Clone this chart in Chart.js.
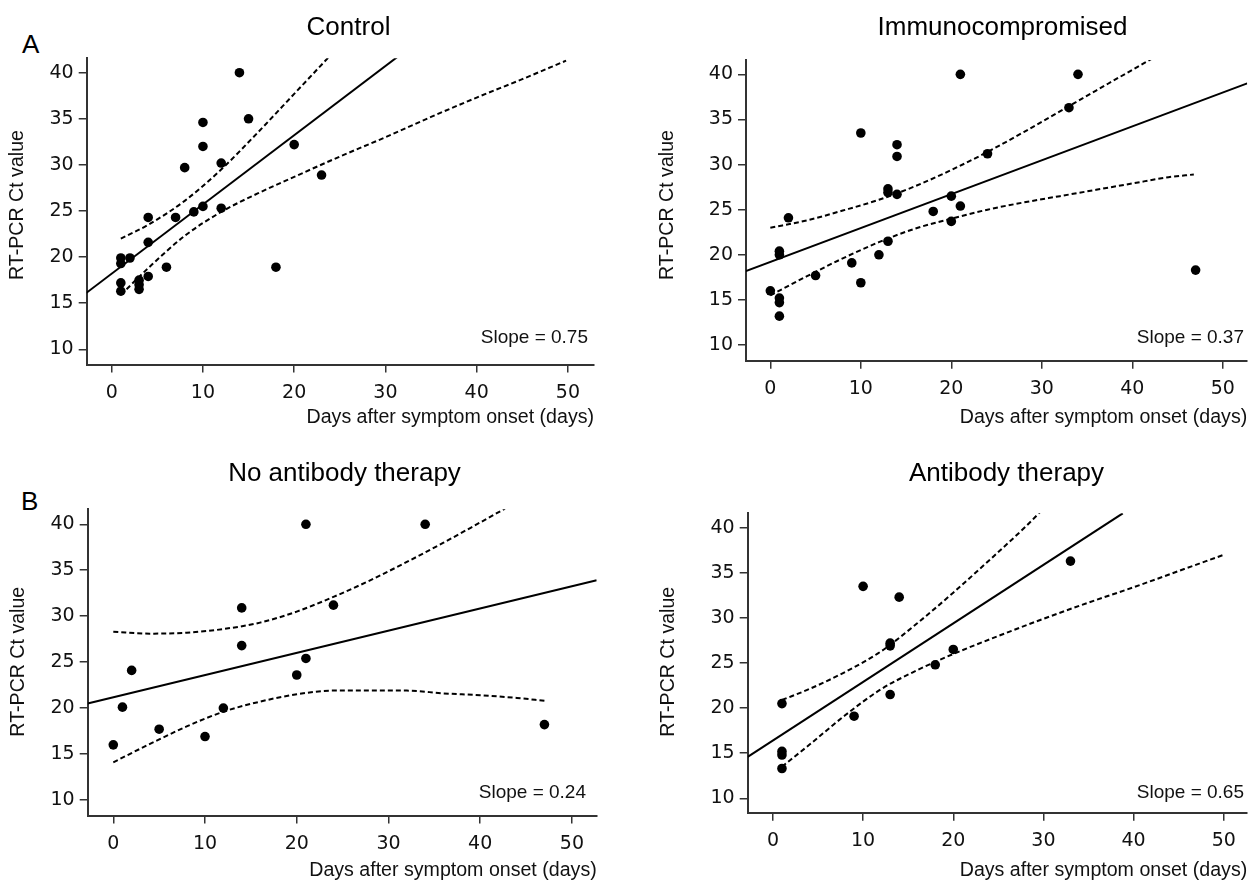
<!DOCTYPE html>
<html>
<head>
<meta charset="utf-8">
<script src="https://cdn.jsdelivr.net/npm/chart.js@4.4.1/dist/chart.umd.min.js"></script>
<style>
  body { margin: 0; background: #fff; }
  #fig { position: relative; width: 1252px; height: 881px; overflow: hidden; background: #fff; }
  #fig canvas { position: absolute; }
  .letter { position: absolute; font-family: 'Liberation Sans', Arial, sans-serif; font-size: 26px; line-height: 26px; color: #000; }
</style>
</head>
<body>
<div id="fig">
  <div class="letter" style="left:22px; top:31px;">A</div>
  <div class="letter" style="left:21px; top:488px;">B</div>
  <canvas id="c-control" width="626" height="440" style="left:0; top:0;"></canvas>
  <canvas id="c-immuno" width="626" height="440" style="left:626px; top:0;"></canvas>
  <canvas id="c-noab" width="626" height="460" style="left:0; top:440px;"></canvas>
  <canvas id="c-ab" width="626" height="460" style="left:626px; top:440px;"></canvas>
</div>
<script>
// tick labels
const xTicks = [0, 10, 20, 30, 40, 50];
const yTicks = [10, 15, 20, 25, 30, 35, 40];

// Control
const controlDays = [1, 1, 2, 1, 1, 3, 3, 3, 4, 4, 4, 6, 7, 8, 9, 10, 10, 10, 12, 12, 14, 15, 18, 20, 23];
const controlCt = [19.9, 19.3, 19.9, 17.2, 16.3, 17.5, 17.0, 16.5, 24.3, 21.6, 17.9, 18.9, 24.3, 29.7, 24.9, 34.6, 32.0, 25.5, 30.2, 25.3, 40.0, 35.0, 18.9, 32.2, 28.9];
const controlFitX = [-2.8, 31.3];
const controlFitY = [16.1, 41.7];
const controlUpperX = [1, 4, 8, 12, 16, 20, 23.8];
const controlUpperY = [22.0, 23.5, 26.1, 29.5, 33.5, 37.7, 41.7];
const controlLowerX = [1, 4, 8, 12, 16, 20, 25, 30, 35, 40, 45, 49.8];
const controlLowerY = [15.9, 18.8, 22.3, 24.9, 26.9, 28.7, 30.9, 33.0, 35.2, 37.3, 39.3, 41.3];

// Immunocompromised
const immunoDays = [0, 1, 1, 1, 1, 1, 2, 5, 9, 10, 10, 12, 13, 13, 13, 14, 14, 14, 18, 20, 20, 21, 21, 24, 33, 34, 47];
const immunoCt = [16.0, 20.4, 20.0, 15.2, 14.7, 13.2, 24.1, 17.7, 19.1, 33.5, 16.9, 20.0, 27.3, 26.9, 21.5, 32.2, 30.9, 26.7, 24.8, 26.5, 23.7, 40.0, 25.4, 31.2, 36.3, 40.0, 18.3];
const immunoFitX = [-2.7, 52.7];
const immunoFitY = [18.2, 39.0];
const immunoUpperX = [0, 4, 8, 12, 16, 20, 24, 28, 32, 36, 40, 42.1];
const immunoUpperY = [23.0, 23.8, 24.9, 26.1, 27.6, 29.4, 31.4, 33.6, 35.9, 38.2, 40.5, 41.7];
const immunoLowerX = [0, 4, 8, 12, 16, 20, 24, 28, 32, 36, 40, 44, 46.8];
const immunoLowerY = [15.5, 17.6, 19.6, 21.4, 22.9, 24.0, 25.0, 25.8, 26.5, 27.2, 27.9, 28.6, 28.9];

// No antibody therapy
const noAbDays = [0, 1, 2, 5, 10, 12, 14, 14, 20, 21, 21, 24, 34, 47];
const noAbCt = [16.0, 20.1, 24.1, 17.7, 16.9, 20.0, 30.9, 26.8, 23.6, 40.0, 25.4, 31.2, 40.0, 18.2];
const noAbFitX = [-2.8, 52.7];
const noAbFitY = [20.5, 33.9];
const noAbUpperX = [0, 4, 8, 12, 16, 20, 24, 28, 32, 36, 40, 42.7];
const noAbUpperY = [28.3, 28.1, 28.2, 28.6, 29.3, 30.5, 32.1, 33.9, 35.9, 38.0, 40.2, 41.7];
const noAbLowerX = [0, 4, 8, 12, 16, 20, 24, 28, 32, 36, 40, 44, 47];
const noAbLowerY = [14.1, 16.1, 18.0, 19.6, 20.7, 21.5, 21.9, 21.9, 21.9, 21.6, 21.4, 21.1, 20.8];

// Antibody therapy
const abDays = [1, 1, 1, 1, 9, 10, 13, 13, 13, 14, 18, 20, 33];
const abCt = [20.5, 15.2, 14.8, 13.3, 19.1, 33.5, 27.2, 26.9, 21.5, 32.3, 24.8, 26.5, 36.3];
const abFitX = [-2.8, 38.8];
const abFitY = [14.6, 41.6];
const abUpperX = [1, 4, 8, 12, 16, 20, 24, 28, 29.6];
const abUpperY = [20.9, 22.1, 24.0, 26.3, 29.4, 32.8, 36.4, 40.1, 41.7];
const abLowerX = [1, 4, 8, 12, 16, 20, 25, 30, 35, 40, 45, 50];
const abLowerY = [13.5, 15.9, 19.2, 22.1, 24.2, 26.0, 28.0, 29.9, 31.7, 33.4, 35.2, 37.0];

const panelTitles = ['Control', 'Immunocompromised', 'No antibody therapy', 'Antibody therapy'];
const slopeLabels = ['Slope = 0.75', 'Slope = 0.37', 'Slope = 0.24', 'Slope = 0.65'];

const xTitle = 'Days after symptom onset (days)';
const yTitle = 'RT-PCR Ct value';

function pts(xs, ys) {
    return xs.map((x, i) => ({ x: x, y: ys[i] }));
}

// layout of each panel, canvas coordinates
const panels = [
    { id: 'c-control', h: 440, area: { l: 86.7, r: 594, t: 58.3, b: 364.5 }, xr: [-2.74, 52.86], yr: [8.35, 41.56],
      titleX: 348.5, titleY: 35, slopeX: 588, slopeY: 342.5, yTitleX: 18, yTitleY: 205, xPad: 10.8,
      days: controlDays, ct: controlCt, fitX: controlFitX, fitY: controlFitY,
      upX: controlUpperX, upY: controlUpperY, loX: controlLowerX, loY: controlLowerY },
    { id: 'c-immuno', h: 440, area: { l: 120, r: 626, t: 60, b: 360.7 }, xr: [-2.69, 52.7], yr: [8.26, 41.59],
      titleX: 376.5, titleY: 35, slopeX: 618, slopeY: 343, yTitleX: 42, yTitleY: 205, xPad: 10.8,
      days: immunoDays, ct: immunoCt, fitX: immunoFitX, fitY: immunoFitY,
      upX: immunoUpperX, upY: immunoUpperY, loX: immunoLowerX, loY: immunoLowerY },
    { id: 'c-noab', h: 460, area: { l: 87.7, r: 596.7, t: 69.3, b: 375.5 }, xr: [-2.79, 52.7], yr: [8.31, 41.63],
      titleX: 344.5, titleY: 41, slopeX: 586, slopeY: 358, yTitleX: 18.3, yTitleY: 221.7, xPad: 17.2,
      days: noAbDays, ct: noAbCt, fitX: noAbFitX, fitY: noAbFitY,
      upX: noAbUpperX, upY: noAbUpperY, loX: noAbLowerX, loY: noAbLowerY },
    { id: 'c-ab', h: 460, area: { l: 121.7, r: 626, t: 73.3, b: 372.7 }, xr: [-2.8, 52.6], yr: [8.4, 41.6],
      titleX: 380.5, titleY: 41, slopeX: 618, slopeY: 358, yTitleX: 43, yTitleY: 221.7, xPad: 17.2,
      days: abDays, ct: abCt, fitX: abFitX, fitY: abFitY,
      upX: abUpperX, upY: abUpperY, loX: abLowerX, loY: abLowerY }
];

const textFont = "'Liberation Sans', Arial, sans-serif";

// panel title, slope note and rotated y title
const panelText = {
    id: 'panelText',
    afterDraw(chart, args, opts) {
        const ctx = chart.ctx;
        ctx.save();
        ctx.fillStyle = '#000';
        ctx.textBaseline = 'alphabetic';
        ctx.font = '26px ' + textFont;
        ctx.textAlign = 'center';
        ctx.fillText(opts.title, opts.titleX, opts.titleY);
        ctx.font = '19px ' + textFont;
        ctx.textAlign = 'right';
        ctx.fillStyle = '#111';
        ctx.fillText(opts.slope, opts.slopeX, opts.slopeY);
        ctx.translate(opts.yTitleX, opts.yTitleY);
        ctx.rotate(-Math.PI / 2);
        ctx.font = '19.6px ' + textFont;
        ctx.textAlign = 'center';
        ctx.textBaseline = 'middle';
        ctx.fillText(yTitle, 0, 0);
        ctx.restore();
    }
};

function lineSet(xs, ys, dashed) {
    return {
        data: pts(xs, ys),
        showLine: true,
        borderColor: '#000',
        borderWidth: 2,
        borderDash: dashed ? [5, 3] : [],
        pointRadius: 0,
        cubicInterpolationMode: dashed ? 'monotone' : 'default',
        fill: false
    };
}

panels.forEach((p, i) => {
    const W = 626;
    new Chart(document.getElementById(p.id), {
        type: 'scatter',
        data: {
            datasets: [
                { data: pts(p.days, p.ct), pointRadius: 4.8, pointBackgroundColor: '#000', pointBorderWidth: 0, showLine: false },
                lineSet(p.fitX, p.fitY, false),
                lineSet(p.upX, p.upY, true),
                lineSet(p.loX, p.loY, true)
            ]
        },
        options: {
            responsive: false,
            animation: false,
            events: [],
            layout: { padding: { left: 0, right: W - p.area.r, top: p.area.t, bottom: 0 } },
            plugins: {
                legend: { display: false },
                tooltip: { enabled: false },
                panelText: { title: panelTitles[i], slope: slopeLabels[i], titleX: p.titleX, titleY: p.titleY,
                             slopeX: p.slopeX, slopeY: p.slopeY, yTitleX: p.yTitleX, yTitleY: p.yTitleY }
            },
            scales: {
                x: {
                    type: 'linear',
                    min: p.xr[0],
                    max: p.xr[1],
                    afterBuildTicks: s => { s.ticks = xTicks.map(v => ({ value: v })); },
                    afterFit: s => { s.height = p.h - p.area.b; },
                    grid: { drawOnChartArea: false, drawTicks: true, tickLength: 8, color: '#333', lineWidth: 1.5 },
                    border: { display: true, color: '#333', width: 2 },
                    ticks: { color: '#111', padding: 9, font: { family: 'DejaVu Sans', size: 19 }, maxRotation: 0 },
                    title: { display: true, text: xTitle, align: 'end', color: '#111',
                             font: { family: textFont, size: 19.6 }, padding: { top: 0, bottom: p.xPad } }
                },
                y: {
                    type: 'linear',
                    min: p.yr[0],
                    max: p.yr[1],
                    afterBuildTicks: s => { s.ticks = yTicks.map(v => ({ value: v })); },
                    afterFit: s => { s.width = p.area.l; },
                    grid: { drawOnChartArea: false, drawTicks: true, tickLength: 8, color: '#333', lineWidth: 1.5 },
                    border: { display: true, color: '#333', width: 2 },
                    ticks: { color: '#111', padding: 5, font: { family: 'DejaVu Sans', size: 19 } },
                    title: { display: false }
                }
            }
        },
        plugins: [panelText]
    });
});
</script>
</body>
</html>
